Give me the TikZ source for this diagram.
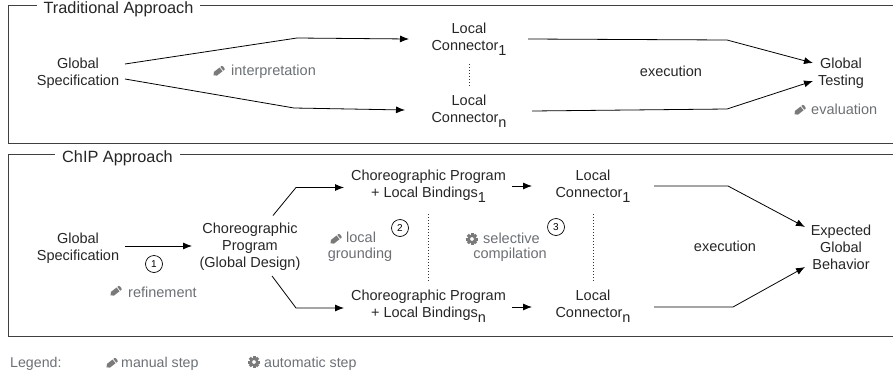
\documentclass[tikz,border=0pt]{standalone}
\usepackage{fontspec}
\setmainfont{Liberation Sans}
\usetikzlibrary{arrows.meta}
\definecolor{stepgray}{HTML}{6C7075}
\definecolor{icongray}{HTML}{7A7A7A}
\tikzset{
  x=1pt,y=-1pt,
  frame/.style={draw=black!75,line width=0.9pt},
  frametitle/.style={fill=white,inner sep=0pt,minimum height=12pt,font=\fontsize{16.3}{18}\selectfont,text=black!85},
  txt/.style={align=center,inner sep=0pt,font=\fontsize{14.5}{17}\selectfont,text=black!85},
  steptxt/.style={align=center,inner sep=0pt,font=\fontsize{14.5}{17}\selectfont,text=stepgray},
  legendtxt/.style={anchor=west,inner sep=0pt,font=\fontsize{14.2}{17}\selectfont,text=stepgray},
  conn/.style={draw=black,line width=0.8pt,-{Latex[length=9pt,width=7pt]}},
  dotline/.style={draw=black!80,line width=0.8pt,dash pattern=on 1pt off 2pt},
  numcirc/.style={draw=black,circle,line width=0.7pt,minimum size=17pt,inner sep=0pt,font=\fontsize{10}{11}\selectfont},
}
\newcommand{\lsub}[1]{\raisebox{-5pt}{#1}}
\newcommand{\pencilicon}[1]{%
  \begin{scope}[shift={(#1)},rotate=38]
    \fill[icongray] (-7,0) -- (-4.4,-2.4) -- (2.6,-2.4) -- (2.6,2.4) -- (-4.4,2.4) -- cycle;
    \fill[icongray] (3.6,-2.4) -- (5.2,-2.4) -- (6,-1.2) -- (6,1.2) -- (5.2,2.4) -- (3.6,2.4) -- cycle;
  \end{scope}}
\newcommand{\gearicon}[1]{%
  \begin{scope}[shift={(#1)}]
    \foreach \a in {0,45,...,315}{\fill[icongray,rotate=\a] (-1.5,-6) rectangle (1.5,-3);}
    \fill[icongray,even odd rule] (0,0) circle (4.6) (0,0) circle (2);
  \end{scope}}
\begin{document}
\begin{tikzpicture}
\useasboundingbox (0,0) rectangle (893,375);
% frames (open at the right edge of the picture)
\coordinate (f1a) at (893,5.5); \coordinate (f1b) at (8.5,5.5);
\coordinate (f1c) at (8.5,143); \coordinate (f1d) at (893,143);
\coordinate (f2a) at (893,154.5); \coordinate (f2b) at (8.5,154.5);
\coordinate (f2c) at (8.5,336.5); \coordinate (f2d) at (893,336.5);
\draw[frame] (f1a) -- (f1b) -- (f1c) -- (f1d);
\draw[frame] (f2a) -- (f2b) -- (f2c) -- (f2d);
\node[frametitle,minimum width=163pt] (t1) at (118.5,9.5) {Traditional Approach};
\node[frametitle,minimum width=125pt] (t2) at (117.5,158) {ChIP Approach};
% top panel
\node[txt] (gs1) at (78,73) {Global\\Specification};
\node[txt] (lc1) at (469,39.5) {Local\\Connector\lsub{1}};
\node[txt] (lcn) at (469,111.5) {Local\\Connector\lsub{n}};
\node[txt] (gt) at (841,73.5) {Global\\Testing};
\node[txt] (ex1) at (671,71) {execution};
\node[steptxt,anchor=west] (interp) at (231,72) {interpretation};
\node[steptxt,anchor=west] (evalu) at (811,109) {evaluation};
\pencilicon{219,71}
\pencilicon{800,110}
\coordinate (a1) at (125,64); \coordinate (a2) at (297,38); \coordinate (a3) at (409,39);
\coordinate (b1) at (125,79); \coordinate (b2) at (294,108); \coordinate (b3) at (405,110);
\coordinate (c1) at (528,39); \coordinate (c2) at (727,40); \coordinate (c3) at (813,63);
\coordinate (d1) at (532,111); \coordinate (d2) at (727,109); \coordinate (d3) at (813,81);
\draw[conn] (a1) -- (a2) -- (a3);
\draw[conn] (b1) -- (b2) -- (b3);
\draw[conn] (c1) -- (c2) -- (c3);
\draw[conn] (d1) -- (d2) -- (d3);
\coordinate (e1) at (469,64); \coordinate (e2) at (469,88);
\draw[dotline] (e1) -- (e2);
% ChIP panel
\node[txt] (gs2) at (78,248.5) {Global\\Specification};
\node[txt] (cp) at (250,247) {Choreographic\\Program\\(Global Design)};
\node[txt] (cl1) at (428.5,186.5) {Choreographic Program\\+ Local Bindings\lsub{1}};
\node[txt] (cln) at (428.5,306.5) {Choreographic Program\\+ Local Bindings\lsub{n}};
\node[txt] (ll1) at (593,186.5) {Local\\Connector\lsub{1}};
\node[txt] (lln) at (593,306.5) {Local\\Connector\lsub{n}};
\node[txt] (eb) at (841,247) {Expected\\Global\\Behavior};
\node[txt] (ex2) at (725,246) {execution};
\node[numcirc] (n1) at (154,264) {1};
\node[numcirc] (n2) at (400,228) {2};
\node[numcirc] (n3) at (556,227) {3};
\node[steptxt,anchor=west] (refine) at (128,292) {refinement};
\pencilicon{116,291}
\node[steptxt,anchor=west] (locl) at (346,237.5) {local};
\node[steptxt] (ground) at (360,255) {grounding};
\pencilicon{336,239}
\node[steptxt,anchor=west] (selec) at (483,238) {selective};
\node[steptxt] (compil) at (510,255) {compilation};
\gearicon{472,239}
\coordinate (s1) at (125,246); \coordinate (s2) at (192,246);
\draw[conn] (s1) -- (s2);
\coordinate (g1) at (273,215.5); \coordinate (g2) at (296,187.5); \coordinate (g3) at (344,187.5);
\coordinate (h1) at (272,276); \coordinate (h2) at (296,308); \coordinate (h3) at (344,308);
\draw[conn] (g1) -- (g2) -- (g3);
\draw[conn] (h1) -- (h2) -- (h3);
\coordinate (i1) at (512,186); \coordinate (i2) at (532,186);
\coordinate (j1) at (512,307); \coordinate (j2) at (532,307);
\draw[conn] (i1) -- (i2);
\draw[conn] (j1) -- (j2);
\coordinate (k1) at (654,186); \coordinate (k2) at (728,186); \coordinate (k3) at (805,227);
\coordinate (l1) at (654,307); \coordinate (l2) at (733,307); \coordinate (l3) at (805,267);
\draw[conn] (k1) -- (k2) -- (k3);
\draw[conn] (l1) -- (l2) -- (l3);
\coordinate (m1) at (428.5,214); \coordinate (m2) at (428.5,282);
\coordinate (m3) at (593,214); \coordinate (m4) at (593,282);
\draw[dotline] (m1) -- (m2);
\draw[dotline] (m3) -- (m4);
% legend
\node[legendtxt] (leg) at (10,363.5) {Legend:};
\node[legendtxt] (man) at (121,363.5) {manual step};
\node[legendtxt] (aut) at (264,363.5) {automatic step};
\pencilicon{112,363}
\gearicon{254,362}
\end{tikzpicture}
\end{document}
